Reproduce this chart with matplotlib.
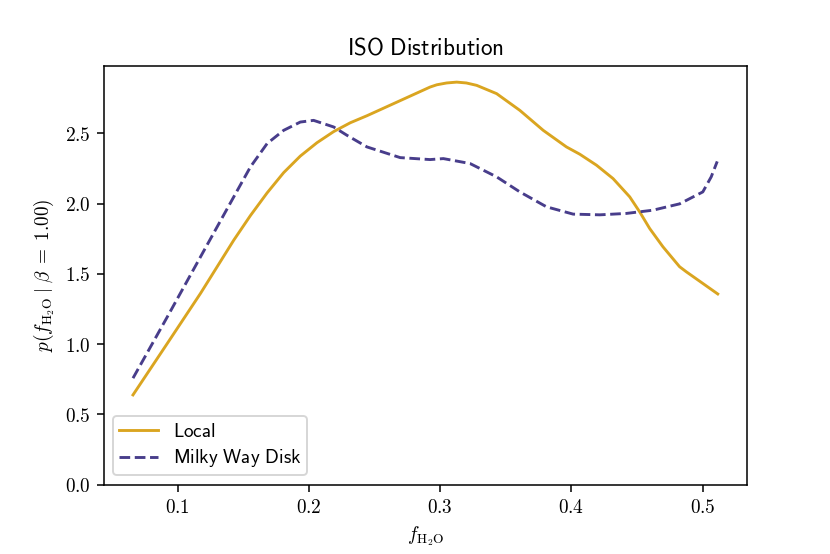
import matplotlib
matplotlib.use("Agg")
import matplotlib.pyplot as plt
from matplotlib.ticker import FuncFormatter

plt.rcParams['mathtext.fontset'] = 'cm'

local_x = [0.0660, 0.0922, 0.1175, 0.1428, 0.1555, 0.1682, 0.1808, 0.1935, 0.2062,
           0.2189, 0.2316, 0.2443, 0.2924, 0.2975, 0.3050, 0.3127, 0.3200, 0.3279,
           0.3431, 0.3608, 0.3786, 0.3963, 0.4065, 0.4192, 0.4318, 0.4445, 0.4521,
           0.4597, 0.4698, 0.4825, 0.4876, 0.5116]
local_y = [0.639, 1.006, 1.362, 1.740, 1.915, 2.076, 2.220, 2.338, 2.433,
           2.512, 2.575, 2.625, 2.829, 2.845, 2.858, 2.864, 2.858, 2.841,
           2.782, 2.663, 2.521, 2.403, 2.351, 2.273, 2.178, 2.048, 1.941,
           1.823, 1.693, 1.551, 1.515, 1.357]

mw_x = [0.0660, 0.0922, 0.1175, 0.1428, 0.1555, 0.1682, 0.1808, 0.1935, 0.2036,
        0.2189, 0.2290, 0.2443, 0.2696, 0.2924, 0.3025, 0.3228, 0.3431, 0.3608,
        0.3811, 0.4014, 0.4217, 0.4420, 0.4622, 0.4825, 0.5002, 0.5066, 0.5112]
mw_y = [0.758, 1.195, 1.622, 2.048, 2.261, 2.427, 2.521, 2.580, 2.592,
        2.545, 2.486, 2.403, 2.327, 2.313, 2.320, 2.285, 2.190, 2.083,
        1.977, 1.925, 1.920, 1.930, 1.953, 1.998, 2.083, 2.190, 2.300]

dpi = 138.33
fig, ax = plt.subplots(figsize=(830 / dpi, 554 / dpi), dpi=dpi)
fig.subplots_adjust(left=0.125, right=0.9, bottom=0.125, top=0.88)
ax.plot(local_x, local_y, color='#DAA520', lw=1.5, label=r'$\mathsf{Local}$')
ax.plot(mw_x, mw_y, color='#483D8B', lw=1.5, ls='--', label=r'$\mathsf{Milky\ Way\ Disk}$')
ax.set_ylim(bottom=0)
fmt = FuncFormatter(lambda v, p: f'${v:.1f}$')
ax.xaxis.set_major_formatter(fmt)
ax.yaxis.set_major_formatter(fmt)
ax.set_title(r'$\mathsf{ISO\ Distribution}$')
ax.set_xlabel(r'$f_{\rm H_2O}$')
ax.set_ylabel(r'$p(f_{\rm H_2O}\;|\;\beta\;=\;1.00)$')
ax.legend(loc='lower left', labelspacing=0.35, borderpad=0.3)
fig.savefig('out.png', dpi=dpi)
